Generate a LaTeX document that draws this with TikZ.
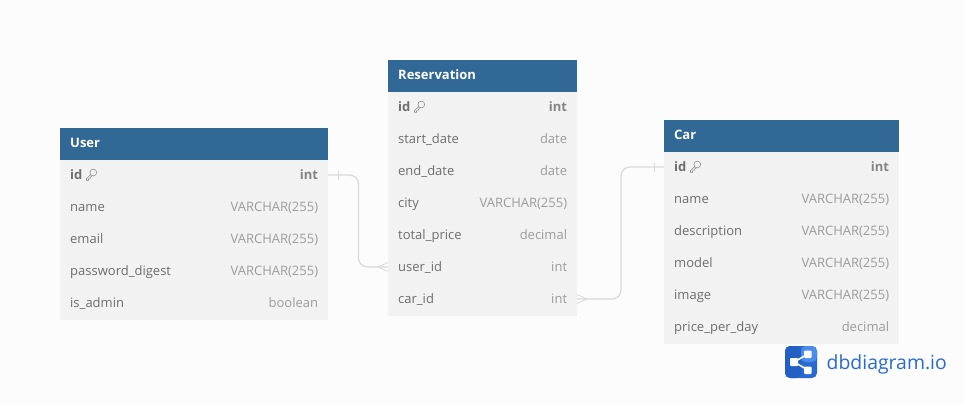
\documentclass[tikz,border=0pt]{standalone}
\usepackage{fontspec}
\setmainfont{Open Sans}
\usetikzlibrary{positioning,calc}
\definecolor{headblue}{HTML}{316896}
\definecolor{rowgray}{HTML}{F2F2F2}
\definecolor{pagegray}{HTML}{FCFCFC}
\definecolor{linkgray}{HTML}{DADADA}
\definecolor{textgray}{HTML}{6E6E6E}
\definecolor{typegray}{HTML}{9C9C9C}
\definecolor{logoblue}{HTML}{2A6AD0}
\definecolor{logodark}{HTML}{2360C4}
\definecolor{logolight}{HTML}{4A8CEB}
\tikzset{
  tablehead/.style={fill=headblue,minimum height=32pt,inner sep=0pt,outer sep=0pt,anchor=north west},
  headname/.style={text=white,font=\fontsize{13}{13}\selectfont\bfseries,inner sep=0pt,anchor=base west},
  tablerow/.style={fill=rowgray,minimum height=32pt,inner sep=0pt,outer sep=0pt,anchor=north},
  fieldname/.style={text=textgray,font=\fontsize{13}{13}\selectfont,inner sep=0pt,anchor=base west},
  fieldtype/.style={text=typegray,font=\fontsize{13}{13}\selectfont,inner sep=0pt,anchor=base east},
  keyname/.style={fieldname,font=\fontsize{13}{13}\selectfont\bfseries},
  keytype/.style={fieldtype,text=textgray!85,font=\fontsize{13}{13}\selectfont\bfseries},
  link/.style={draw=linkgray,line width=1.3pt,rounded corners=9pt},
  linkmark/.style={draw=linkgray,line width=0.8pt},
  keyicon/.pic={
    \draw[textgray!80,line width=0.55pt] (1.8,-2) circle (3.4pt);
    \draw[textgray!80,line width=0.55pt] (-0.8,0.2) -- (-5,4.2) -- (-5,5.8) -- (-3,5.8) -- (-3,4.4) -- (-1.4,4.4) -- (-1.4,3) -- (0.6,1.3);
  }
}
% one row of a table: name, column text, column type, style suffix
\newcommand{\tablefield}[6]{%
  \node[tablerow,minimum width=#3pt] (#1) at (#2) {};
  \node[#6name] (#1-name) at ($(#1.west)+(10,3.5)$) {#4};
  \node[#6type] (#1-type) at ($(#1.east)+(-9.7,3.5)$) {#5};
}
\begin{document}
\begin{tikzpicture}[x=1pt,y=-1pt]
  \useasboundingbox[fill=pagegray] (0,0) rectangle (964,404);

  % User
  \node[tablehead,minimum width=268pt] (user) at (60,128) {};
  \node[headname] (user-title) at ($(user.west)+(10,3.5)$) {User};
  \tablefield{user-id}{194,160}{268}{id}{int}{key}
  \tablefield{user-name}{194,192}{268}{name}{VARCHAR(255)}{field}
  \tablefield{user-email}{194,224}{268}{email}{VARCHAR(255)}{field}
  \tablefield{user-password}{194,256}{268}{password\_digest}{VARCHAR(255)}{field}
  \tablefield{user-admin}{194,288}{268}{is\_admin}{boolean}{field}
  \pic at (91.5,174.5) {keyicon};

  % Reservation
  \node[tablehead,minimum width=189pt] (reservation) at (388,60) {};
  \node[headname] (reservation-title) at ($(reservation.west)+(10,3.5)$) {Reservation};
  \tablefield{res-id}{482.5,92}{189}{id}{int}{key}
  \tablefield{res-start}{482.5,124}{189}{start\_date}{date}{field}
  \tablefield{res-end}{482.5,156}{189}{end\_date}{date}{field}
  \tablefield{res-city}{482.5,188}{189}{city}{VARCHAR(255)}{field}
  \tablefield{res-price}{482.5,220}{189}{total\_price}{decimal}{field}
  \tablefield{res-user}{482.5,252}{189}{user\_id}{int}{field}
  \tablefield{res-car}{482.5,284}{189}{car\_id}{int}{field}
  \pic at (419.5,106.5) {keyicon};

  % Car
  \node[tablehead,minimum width=235pt] (car) at (664,120) {};
  \node[headname] (car-title) at ($(car.west)+(10,3.5)$) {Car};
  \tablefield{car-id}{781.5,152}{235}{id}{int}{key}
  \tablefield{car-name}{781.5,184}{235}{name}{VARCHAR(255)}{field}
  \tablefield{car-desc}{781.5,216}{235}{description}{VARCHAR(255)}{field}
  \tablefield{car-model}{781.5,248}{235}{model}{VARCHAR(255)}{field}
  \tablefield{car-image}{781.5,280}{235}{image}{VARCHAR(255)}{field}
  \tablefield{car-price}{781.5,312}{235}{price\_per\_day}{decimal}{field}
  \pic at (695.5,166.5) {keyicon};

  % links
  \coordinate (bend-a) at (358.5,0);
  \coordinate (bend-b) at (621,0);
  \coordinate (user-out) at ($(user-id.east)+(0,-1)$);
  \coordinate (res-in) at ($(res-user.west)+(0,-1)$);
  \coordinate (res-out) at ($(res-car.east)+(0,-1)$);
  \coordinate (car-in) at ($(car-id.west)+(0,-1)$);
  \draw[link] (user-out) -- (user-out -| bend-a) -- (res-in -| bend-a) -- (res-in);
  \draw[link] (res-out) -- (res-out -| bend-b) -- (car-in -| bend-b) -- (car-in);
  \draw[linkmark] ($(user-out)+(10,-4.5)$) -- ($(user-out)+(10,4.5)$);
  \draw[linkmark] ($(car-in)+(-10,-4.5)$) -- ($(car-in)+(-10,4.5)$);
  \draw[linkmark] ($(res-in)+(0,-4.5)$) -- ($(res-in)+(-10,0)$) -- ($(res-in)+(0,4.5)$);
  \draw[linkmark] ($(res-out)+(0,-4.5)$) -- ($(res-out)+(10,0)$) -- ($(res-out)+(0,4.5)$);

  % logo
  \fill[logoblue,rounded corners=5pt] (785,346) rectangle (817,378);
  \fill[logodark,rounded corners=5pt] (785,346) rectangle (801,378);
  \fill[logolight,rounded corners=5pt] (801,346) rectangle (817,362);
  \draw[white,line width=1.6pt] (794,362) -- (808,354) (794,362) -- (808,370);
  \fill[white,rounded corners=1pt] (790,358) rectangle (798,366);
  \fill[white,rounded corners=1pt] (804,350.5) rectangle (811.5,358);
  \fill[white,rounded corners=1pt] (804,366.5) rectangle (811.5,374);
  \node[text=logoblue,font=\fontsize{19.4}{20}\selectfont,inner sep=0pt,anchor=base west] (logotext) at (826.5,369) {dbdiagram.io};
\end{tikzpicture}
\end{document}
